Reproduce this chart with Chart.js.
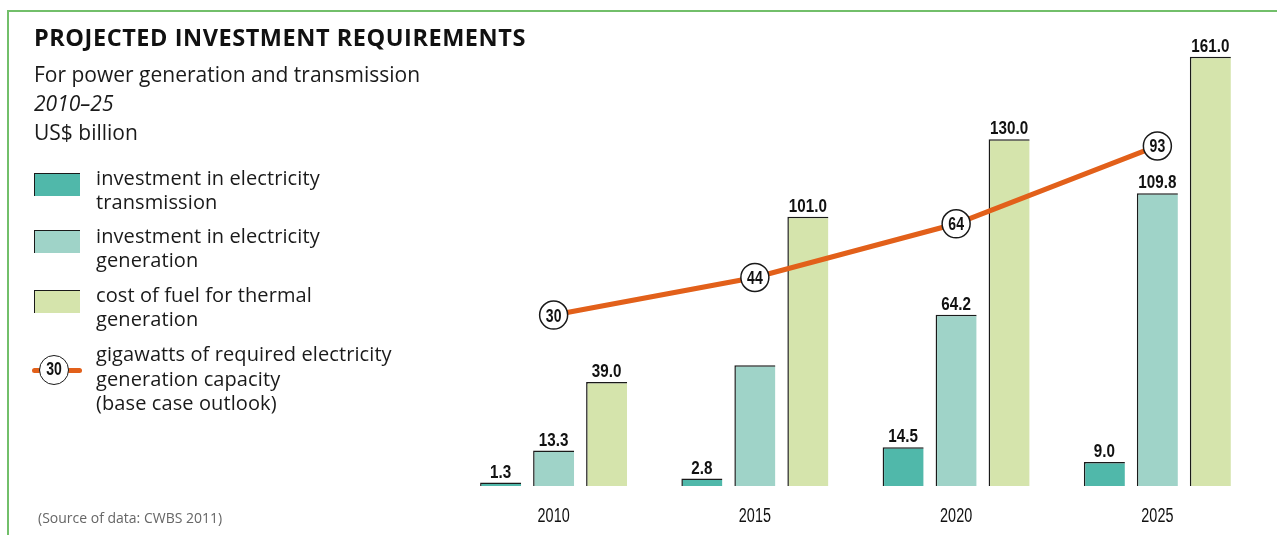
<!DOCTYPE html>
<html>
<head>
<meta charset="utf-8">
<script src="https://cdn.jsdelivr.net/npm/chart.js@4.4.1/dist/chart.umd.min.js"></script>
<style>
html,body{margin:0;padding:0;background:#fff;}
body{width:1277px;height:535px;position:relative;overflow:hidden;font-family:"Open Sans",sans-serif;color:#1a1a1a;}
#frame{position:absolute;left:7px;top:10px;width:1270px;height:525px;border-left:2px solid #72bf6a;border-top:2px solid #72bf6a;box-sizing:border-box;}
#wrap{position:absolute;left:0;top:0;width:1277px;height:535px;}
.t{position:absolute;white-space:nowrap;line-height:1;}
.title{left:34px;top:26px;font-size:23.5px;font-weight:700;letter-spacing:0.55px;color:#111;}
.sub{left:34px;font-size:21px;}
.leg{position:absolute;left:96px;font-size:20px;line-height:24px;white-space:nowrap;letter-spacing:0.1px;}
.sw{position:absolute;left:34px;width:46px;height:23px;box-sizing:border-box;border-top:1.5px solid #1a1a1a;border-left:1.5px solid #1a1a1a;}
.src{left:38px;top:510.6px;font-size:14px;color:#666;}
#legLine{position:absolute;left:32px;top:367.5px;width:50px;height:5px;border-radius:2.5px;background:#e2601a;}
#legDot{position:absolute;left:38.7px;top:355px;width:30px;height:30px;box-sizing:border-box;border:1.5px solid #1a1a1a;border-radius:50%;background:#fff;
  font:bold 18px "Liberation Sans",Arial,sans-serif;text-align:center;line-height:27px;color:#111;}
#legDot span{display:inline-block;transform:scaleX(0.78);}
</style>
</head>
<body>
<div id="frame"></div>
<div id="wrap"><canvas id="c" width="1277" height="535"></canvas></div>

<div class="t title">PROJECTED INVESTMENT REQUIREMENTS</div>
<div class="t sub" style="top:64.4px">For power generation and transmission</div>
<div class="t sub" style="top:93.4px;font-style:italic">2010–25</div>
<div class="t sub" style="top:122.4px">US$ billion</div>

<div id="legend"></div>
<div class="t src">(Source of data: CWBS 2011)</div>

<script>
// ---- data ----
const categories = ['2010', '2015', '2020', '2025'];
const transmission = [1.3, 2.8, 14.5, 9.0];
const generation = [13.3, 45.3, 64.2, 109.8];
const fuel = [39.0, 101.0, 130.0, 161.0];
const capacityGW = [30, 44, 64, 93];
const transmissionLabelShown = [true, true, true, true];
const generationLabelShown = [true, false, true, true];
const fuelLabelShown = [true, true, true, true];
const seriesNames = [
  'investment in electricity\ntransmission',
  'investment in electricity\ngeneration',
  'cost of fuel for thermal\ngeneration',
  'gigawatts of required electricity\ngeneration capacity\n(base case outlook)'
];
const seriesColors = ['#50b8aa', '#9fd3c8', '#d5e4ac', '#e2601a'];

// ---- legend (HTML) ----
const legendTops = [166.2, 224.2, 283.2, 342.2];
const swatchTops = [173, 230, 290];
const legend = document.getElementById('legend');
seriesNames.forEach((name, i) => {
  const d = document.createElement('div');
  d.className = 'leg';
  d.style.top = legendTops[i] + 'px';
  if (i === 3) d.style.lineHeight = '24.5px';
  d.innerHTML = name.split('\n').join('<br>');
  legend.appendChild(d);
  if (i < 3) {
    const s = document.createElement('div');
    s.className = 'sw';
    s.style.top = swatchTops[i] + 'px';
    s.style.background = seriesColors[i];
    legend.appendChild(s);
  } else {
    const l = document.createElement('div'); l.id = 'legLine'; legend.appendChild(l);
    const c = document.createElement('div'); c.id = 'legDot';
    const sp = document.createElement('span'); sp.textContent = String(capacityGW[0]);
    c.appendChild(sp); legend.appendChild(c);
  }
});

const numFont = '"Liberation Sans",Arial,sans-serif';
const labelFlags = [transmissionLabelShown, generationLabelShown, fuelLabelShown];

function condensedText(ctx, text, x, y, font, sx) {
  ctx.save();
  ctx.translate(x, y);
  ctx.scale(sx, 1);
  ctx.font = font;
  ctx.fillText(text, 0, 0);
  ctx.restore();
}

const labelPlugin = {
  id: 'valueLabels',
  afterDatasetsDraw(chart) {
    const ctx = chart.ctx;
    ctx.save();
    ctx.fillStyle = '#111';
    ctx.textAlign = 'center';
    ctx.textBaseline = 'alphabetic';
    for (let i = 0; i < 3; i++) {
      const meta = chart.getDatasetMeta(i);
      const vals = chart.data.datasets[i].data;
      meta.data.forEach((bar, j) => {
        if (!labelFlags[i][j]) return;
        condensedText(ctx, vals[j].toFixed(1), bar.x, bar.y - 5, 'bold 19px ' + numFont, 0.8);
      });
    }
    const lm = chart.getDatasetMeta(3);
    lm.data.forEach((pt, j) => {
      condensedText(ctx, String(capacityGW[j]), pt.x, pt.y + 6.5, 'bold 18px ' + numFont, 0.78);
    });
    // category labels of the x axis, drawn condensed at the axis tick positions
    const xs = chart.scales.x;
    xs.getLabels().forEach((lab, i) => {
      condensedText(ctx, lab, xs.getPixelForTick(i), 521.8, '20px ' + numFont, 0.72);
    });
    ctx.restore();
  }
};

const barBorder = {top: 1.5, left: 1.5, right: 0, bottom: 0};

new Chart(document.getElementById('c'), {
  type: 'bar',
  data: {
    labels: categories,
    datasets: [
      {label: seriesNames[0], data: transmission, backgroundColor: seriesColors[0], borderColor: '#1a1a1a', borderWidth: barBorder, borderSkipped: false, order: 2, categoryPercentage: 0.79, barPercentage: 0.774},
      {label: seriesNames[1], data: generation, backgroundColor: seriesColors[1], borderColor: '#1a1a1a', borderWidth: barBorder, borderSkipped: false, order: 2, categoryPercentage: 0.79, barPercentage: 0.774},
      {label: seriesNames[2], data: fuel, backgroundColor: seriesColors[2], borderColor: '#1a1a1a', borderWidth: barBorder, borderSkipped: false, order: 2, categoryPercentage: 0.79, barPercentage: 0.774},
      {type: 'line', label: seriesNames[3], data: capacityGW, yAxisID: 'y2', borderColor: seriesColors[3], borderWidth: 5, tension: 0,
       pointRadius: 14, pointBackgroundColor: '#fff', pointBorderColor: '#1a1a1a', pointBorderWidth: 1.5, order: 0}
    ]
  },
  options: {
    responsive: false,
    animation: false,
    events: [],
    layout: {padding: {left: 453, right: 19, top: 30, bottom: 0}},
    plugins: {legend: {display: false}, tooltip: {enabled: false}},
    scales: {
      x: {
        grid: {display: false, drawTicks: false},
        border: {display: false},
        ticks: {display: false},
        afterFit: s => { s.height = 49; }
      },
      y: {display: false, min: 0, max: 171},
      y2: {display: false, position: 'right', min: -33.7, max: 136.2}
    }
  },
  plugins: [labelPlugin]
});
</script>
</body>
</html>
